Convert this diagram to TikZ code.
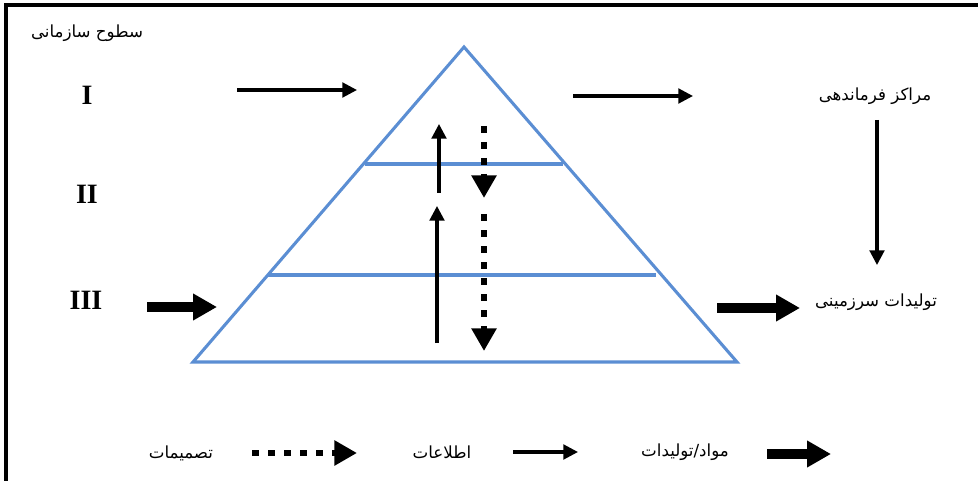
\documentclass[tikz,border=0pt]{standalone}
\usepackage{fontspec}
\usepackage{xcolor}
\usepackage{tikz}
\usetikzlibrary{arrows.meta}
\setmainfont{Liberation Serif}
\newfontfamily\farsi[Script=Arabic]{DejaVu Sans}
\TeXXeTstate=1
\definecolor{pyrblue}{RGB}{91,142,211}

\begin{document}
\begin{tikzpicture}[x=0.75pt, y=-0.75pt,
    fa/.style={font=\farsi\fontsize{12.5}{14}\selectfont, inner sep=0pt},
    lvl/.style={font=\bfseries\fontsize{21}{24}\selectfont, inner sep=0pt},
    pyr/.style={pyrblue, line width=2.3pt},
    info/.style={-{Triangle[length=11pt,width=11pt]}, line width=2.3pt},
    goods/.style={-{Triangle[length=18pt,width=19pt]}, line width=7pt},
    order/.style={-{Triangle[length=17pt,width=18pt]}, line width=5pt, dash pattern=on 5pt off 7pt}]
  \useasboundingbox (0,0) rectangle (978,481);
  % frame
  \draw[line width=2.4pt] (6,481) -- (6,5) -- (978,5);

  % pyramid
  \coordinate (apex) at (464,47);
  \coordinate (bl) at (193,362);
  \coordinate (br) at (737,362);
  \draw[pyr] (apex) -- (bl) -- (br) -- cycle;
  \draw[pyr] (365,164) -- (563,164);
  \draw[pyr] (268,275) -- (656,275);

  % levels
  \node[fa] (title) at (87,33) {\beginR سطوح سازمانی\endR};
  \node[lvl] (l1) at (87,95) {I};
  \node[lvl] (l2) at (87,194) {II};
  \node[lvl] (l3) at (86,300) {III};

  \node[fa] (cmd) at (875,96) {\beginR مراکز فرماندهی\endR};
  \node[fa] (prod) at (876,302) {\beginR تولیدات سرزمینی\endR};

  % flows
  \coordinate (i1a) at (237,90);  \coordinate (i1b) at (357,90);
  \coordinate (i2a) at (573,96);  \coordinate (i2b) at (693,96);
  \coordinate (c1) at (877,120);  \coordinate (c2) at (877,265);
  \coordinate (g1a) at (147,307); \coordinate (g1b) at (217,307);
  \coordinate (g2a) at (717,308); \coordinate (g2b) at (800,308);
  \draw[info] (i1a) -- (i1b);
  \draw[info] (i2a) -- (i2b);
  \draw[info] (c1) -- (c2);
  \draw[goods] (g1a) -- (g1b);
  \draw[goods] (g2a) -- (g2b);

  % inside the pyramid
  \coordinate (u1a) at (439,193); \coordinate (u1b) at (439,124);
  \coordinate (u2a) at (437,343); \coordinate (u2b) at (437,206);
  \coordinate (d1a) at (484,126); \coordinate (d1b) at (484,198);
  \coordinate (d2a) at (484,214); \coordinate (d2b) at (484,351);
  \draw[info] (u1a) -- (u1b);
  \draw[info] (u2a) -- (u2b);
  \draw[order] (d1a) -- (d1b);
  \draw[order] (d2a) -- (d2b);

  % legend
  \node[fa] (kdec) at (181,453) {\beginR تصمیمات\endR};
  \node[fa] (kinf) at (442,452) {\beginR اطلاعات\endR};
  \node[fa] (kmat) at (685,452) {\beginR مواد/تولیدات\endR};
  \coordinate (k1a) at (252,453); \coordinate (k1b) at (357,453);
  \coordinate (k2a) at (513,452); \coordinate (k2b) at (578,452);
  \coordinate (k3a) at (767,454); \coordinate (k3b) at (831,454);
  \draw[order] (k1a) -- (k1b);
  \draw[info] (k2a) -- (k2b);
  \draw[goods] (k3a) -- (k3b);
\end{tikzpicture}
\end{document}
